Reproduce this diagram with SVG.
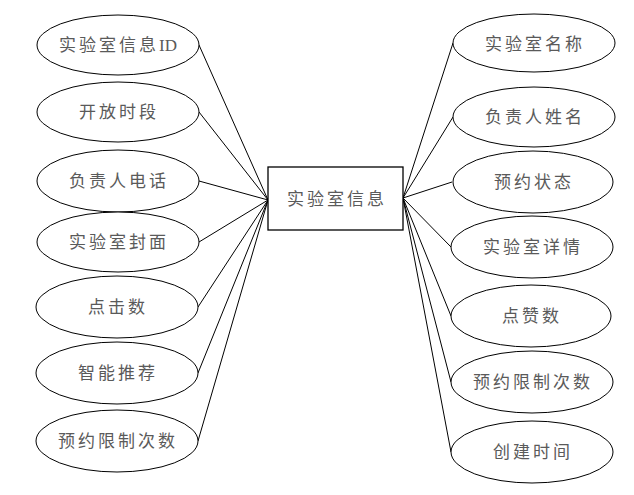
<svg xmlns="http://www.w3.org/2000/svg" width="634" height="495" viewBox="0 0 634 495">
<style>
.n{fill:#fff;stroke:#000;stroke-width:1}
.t{font-family:"Liberation Serif","Noto Sans CJK SC",serif;font-size:17px;letter-spacing:3px;fill:#5a5a5a;text-anchor:middle;dominant-baseline:central}
.c line{stroke:#000;stroke-width:1}
</style>
<rect width="634" height="495" fill="#fff"/>
<g class="c" id="connectors">
<line x1="199" y1="45" x2="268" y2="200"/>
<line x1="199" y1="112" x2="268" y2="200"/>
<line x1="199" y1="181" x2="268" y2="200"/>
<line x1="199" y1="242" x2="268" y2="200"/>
<line x1="198" y1="307" x2="268" y2="200"/>
<line x1="198" y1="373" x2="268" y2="200"/>
<line x1="198" y1="441" x2="268" y2="200"/>
<line x1="403" y1="198" x2="453" y2="43"/>
<line x1="403" y1="198" x2="453" y2="117"/>
<line x1="403" y1="198" x2="452" y2="182"/>
<line x1="403" y1="198" x2="451" y2="247"/>
<line x1="403" y1="198" x2="451" y2="316"/>
<line x1="403" y1="198" x2="451" y2="382"/>
<line x1="403" y1="198" x2="451" y2="452"/>
</g>
<g id="center"><rect class="n" x="268" y="167" width="135" height="63" style="stroke-width:1.3"/><text class="t" x="337" y="199">实验室信息</text></g>
<g id="l1"><ellipse class="n" cx="118" cy="45" rx="81" ry="30"/><text class="t" x="118" y="45">实验室信息<tspan letter-spacing="0">ID</tspan></text></g>
<g id="l2"><ellipse class="n" cx="118" cy="112" rx="81" ry="30"/><text class="t" x="119" y="112">开放时段</text></g>
<g id="l3"><ellipse class="n" cx="118" cy="181" rx="81" ry="31"/><text class="t" x="119" y="181">负责人电话</text></g>
<g id="l4"><ellipse class="n" cx="118" cy="242" rx="81" ry="30"/><text class="t" x="119" y="242">实验室封面</text></g>
<g id="l5"><ellipse class="n" cx="117" cy="307" rx="81" ry="31"/><text class="t" x="118" y="307">点击数</text></g>
<g id="l6"><ellipse class="n" cx="117" cy="373" rx="81" ry="31"/><text class="t" x="118" y="373">智能推荐</text></g>
<g id="l7"><ellipse class="n" cx="117" cy="441" rx="81" ry="31"/><text class="t" x="118" y="441">预约限制次数</text></g>
<g id="r1"><ellipse class="n" cx="534" cy="43" rx="81" ry="29"/><text class="t" x="535" y="44">实验室名称</text></g>
<g id="r2"><ellipse class="n" cx="534" cy="117" rx="81" ry="30"/><text class="t" x="535" y="117">负责人姓名</text></g>
<g id="r3"><ellipse class="n" cx="533" cy="182" rx="80" ry="31"/><text class="t" x="534" y="182">预约状态</text></g>
<g id="r4"><ellipse class="n" cx="532" cy="247" rx="81" ry="31"/><text class="t" x="533" y="247">实验室详情</text></g>
<g id="r5"><ellipse class="n" cx="531" cy="316" rx="80" ry="31"/><text class="t" x="532" y="316">点赞数</text></g>
<g id="r6"><ellipse class="n" cx="532" cy="382" rx="81" ry="31"/><text class="t" x="533" y="382">预约限制次数</text></g>
<g id="r7"><ellipse class="n" cx="532" cy="452" rx="81" ry="31"/><text class="t" x="533" y="452">创建时间</text></g>
</svg>
